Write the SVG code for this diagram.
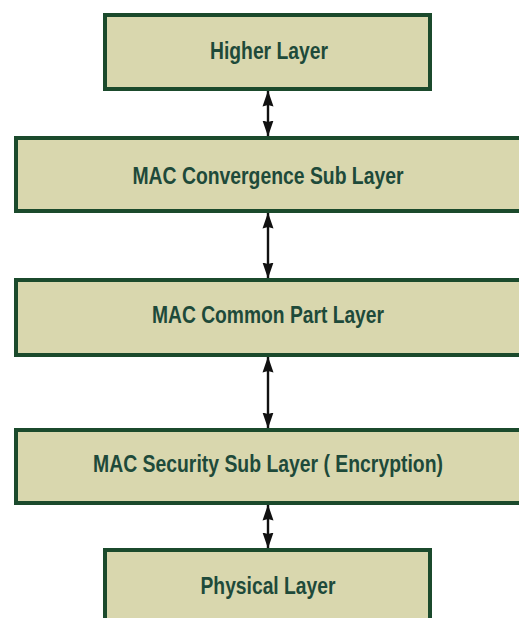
<svg xmlns="http://www.w3.org/2000/svg" width="519" height="618" viewBox="0 0 519 618">
<style>
.box{fill:#d9d7ae;stroke:#1b4a2c;stroke-width:4}
.lbl{font-family:"Liberation Sans",Arial,sans-serif;font-weight:bold;font-size:23px;fill:#1e4a3a;text-anchor:middle}
.conn{stroke:#111;stroke-width:2.4;fill:none;marker-start:url(#ah);marker-end:url(#ah)}
</style>
<defs>
<marker id="ah" markerUnits="userSpaceOnUse" markerWidth="16" markerHeight="12" viewBox="0 0 16 12" refX="15.5" refY="6" orient="auto-start-reverse">
<path d="M0,0.5 L16,6 L0,11.5 L1.5,6 Z" fill="#111"/>
</marker>
</defs>
<rect width="519" height="618" fill="#fff"/>
<g id="connectors">
<line class="conn" x1="268" y1="91" x2="268" y2="136"/>
<line class="conn" x1="268" y1="213" x2="268" y2="278"/>
<line class="conn" x1="268" y1="357" x2="268" y2="428"/>
<line class="conn" x1="268" y1="505" x2="268" y2="548"/>
</g>
<g id="higher">
<rect class="box" x="105" y="15" width="325" height="74"/>
<text class="lbl" x="269" y="59" textLength="118" lengthAdjust="spacingAndGlyphs">Higher Layer</text>
</g>
<g id="convergence">
<rect class="box" x="16" y="138" width="520" height="73"/>
<text class="lbl" x="268" y="184" textLength="271" lengthAdjust="spacingAndGlyphs">MAC Convergence Sub Layer</text>
</g>
<g id="common">
<rect class="box" x="16" y="280" width="520" height="75"/>
<text class="lbl" x="268" y="323" textLength="232" lengthAdjust="spacingAndGlyphs">MAC Common Part Layer</text>
</g>
<g id="security">
<rect class="box" x="16" y="430" width="520" height="73"/>
<text class="lbl" x="268" y="472" textLength="350" lengthAdjust="spacingAndGlyphs">MAC Security Sub Layer ( Encryption)</text>
</g>
<g id="physical">
<rect class="box" x="105" y="550" width="325" height="90"/>
<text class="lbl" x="268" y="594" textLength="135" lengthAdjust="spacingAndGlyphs">Physical Layer</text>
</g>
</svg>
